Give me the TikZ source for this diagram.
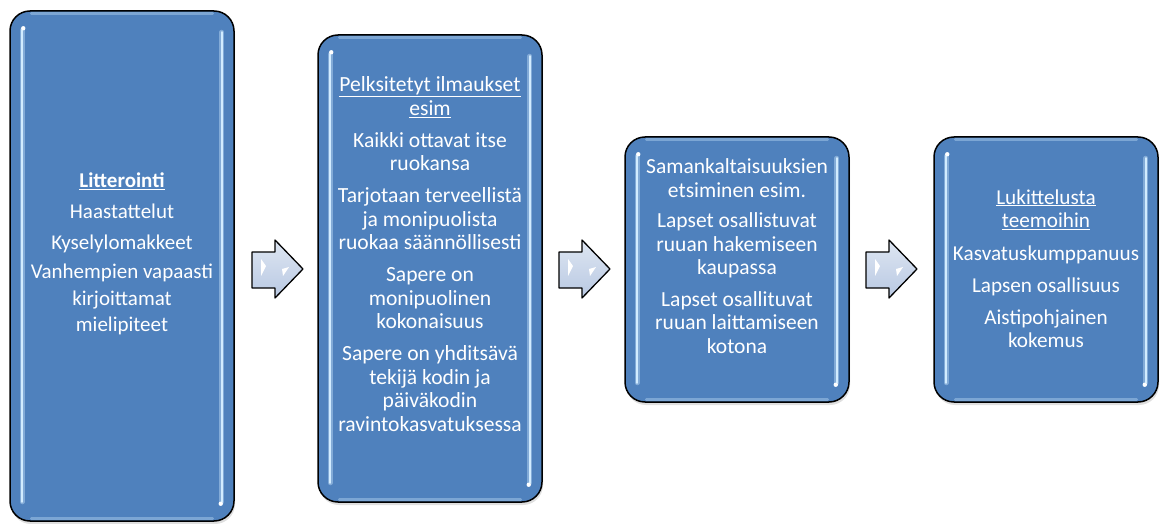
\documentclass[tikz,border=0pt]{standalone}
\usepackage{fontspec}
\setmainfont{Carlito}
\usetikzlibrary{shadows,calc}
\definecolor{boxblue}{RGB}{79,129,189}
\definecolor{hilite}{RGB}{210,236,255}
\definecolor{arrowtop}{RGB}{222,230,242}
\definecolor{arrowbot}{RGB}{184,200,226}
\begin{document}
\begin{tikzpicture}[x=1pt,y=-1pt,
  stagebox/.style={draw=black, line width=1.5pt, fill=boxblue, rounded corners=20pt,
    drop shadow={shadow xshift=1pt, shadow yshift=-3pt, opacity=0.25}},
  glow/.style={draw=hilite, line width=5pt, opacity=0.4, line cap=round},
  hl/.style={draw=hilite, line width=2.2pt, line cap=round},
  edgeglow/.style={draw=hilite, line width=2.5pt, opacity=0.35, line cap=round},
  txt/.style={text=white, align=center, inner sep=0pt},
  arrowbody/.style={draw=black, line width=1.3pt, line join=round, top color=arrowtop, bottom color=arrowbot},
  blockarrow/.pic={
    \path[arrowbody] (0,252) -- (23,252) -- (23,240) -- (51,269) -- (23,298) -- (23,288) -- (0,288) -- cycle;
    \fill[white] (9,259) -- (14,266) -- (9,276) -- cycle;
    \fill[white] (30,269) -- (37,267) -- (31,276) -- cycle;
  }]
\useasboundingbox (0,0) rectangle (1160,524);

% boxes
\node[stagebox, minimum width=224pt, minimum height=510pt] (b1) at (122,266) {};
\node[stagebox, minimum width=224pt, minimum height=467pt] (b2) at (430,268.5) {};
\node[stagebox, minimum width=224pt, minimum height=265pt] (b3) at (737,269.5) {};
\node[stagebox, minimum width=224pt, minimum height=265pt] (b4) at (1046,269.5) {};

% inner highlights
\foreach \b in {b1,b2,b3,b4}{
  \draw[edgeglow] ([xshift=22pt,yshift=-3.5pt]\b.north west) -- ([xshift=-22pt,yshift=-3.5pt]\b.north east);
  \draw[edgeglow] ([xshift=22pt,yshift=3.5pt]\b.south west) -- ([xshift=-22pt,yshift=3.5pt]\b.south east);
  \draw[glow] ([xshift=13pt,yshift=-20pt]\b.north west) -- ([xshift=13pt,yshift=20pt]\b.south west);
  \draw[hl]   ([xshift=13pt,yshift=-20pt]\b.north west) -- ([xshift=13pt,yshift=20pt]\b.south west);
  \draw[glow] ([xshift=-13pt,yshift=-22pt]\b.north east) -- ([xshift=-13pt,yshift=20pt]\b.south east);
  \draw[hl]   ([xshift=-13pt,yshift=-22pt]\b.north east) -- ([xshift=-13pt,yshift=20pt]\b.south east);
  \fill[white] ([xshift=14pt,yshift=-18pt]\b.north west) circle (2.2pt);
  \fill[white] ([xshift=-14pt,yshift=18pt]\b.south east) circle (2.2pt);
}

% texts
\node[txt, font=\fontsize{21}{26.5}\selectfont] (t1) at (122,254)
  {\underline{\textbf{Litterointi}}\\[4.5pt]
   Haastattelut\\[4.5pt]
   Kyselylomakkeet\\[3pt]
   Vanhempien vapaasti\\ kirjoittamat\\ mielipiteet};
\node[txt, font=\fontsize{21.6}{23.5}\selectfont] (t2) at (430,254)
  {\underline{Pelksitetyt ilmaukset}\\ \underline{esim}\\[8.5pt]
   Kaikki ottavat itse\\ ruokansa\\[8.5pt]
   Tarjotaan terveellistä\\ ja monipuolista\\ ruokaa säännöllisesti\\[8.5pt]
   Sapere on\\ monipuolinen\\ kokonaisuus\\[8.5pt]
   Sapere on yhditsävä\\ tekijä kodin ja\\ päiväkodin\\ ravintokasvatuksessa};
\node[txt, font=\fontsize{21.5}{23.5}\selectfont] (t3) at (737,256)
  {Samankaltaisuuksien\\ etsiminen esim.\\[7pt]
   Lapset osallistuvat\\ ruuan hakemiseen\\ kaupassa\\[8pt]
   Lapset osallituvat\\ ruuan laittamiseen\\ kotona};
\node[txt, font=\fontsize{21.2}{23.5}\selectfont] (t4) at (1046,268.5)
  {\underline{Lukittelusta}\\ \underline{teemoihin}\\[9pt]
   Kasvatuskumppanuus\\[8.5pt]
   Lapsen osallisuus\\[8.5pt]
   Aistipohjainen\\ kokemus};

% block arrows
\pic (a1) at (252,0) {blockarrow};
\pic (a2) at (559,0) {blockarrow};
\pic (a3) at (866,0) {blockarrow};
\end{tikzpicture}
\end{document}
